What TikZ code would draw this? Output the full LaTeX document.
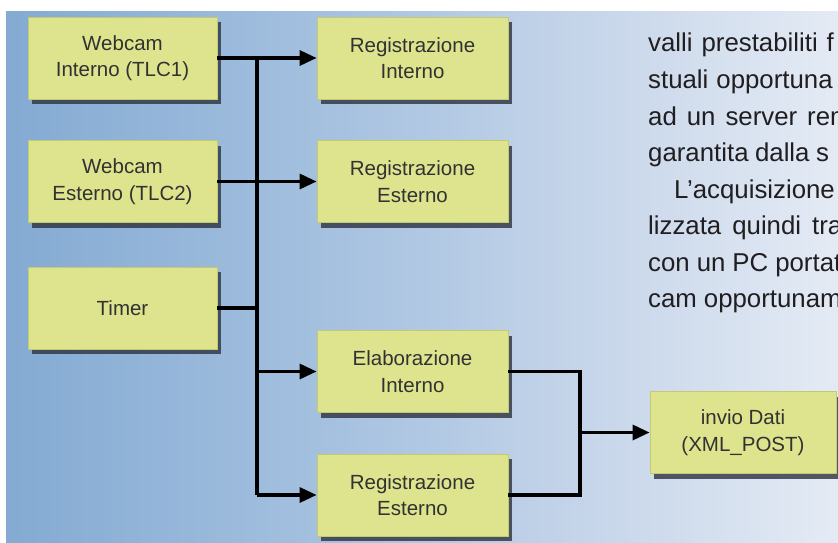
\documentclass[tikz,border=0pt]{standalone}
\usepackage{fontspec}
\setmainfont{Liberation Sans}
\usetikzlibrary{arrows.meta,shadows}

\definecolor{boxfill}{RGB}{222,228,142}
\definecolor{boxline}{RGB}{196,202,112}
\definecolor{boxtext}{RGB}{50,50,50}
\definecolor{paratext}{RGB}{32,30,32}
\definecolor{shadowcol}{RGB}{45,50,64}
\definecolor{p0}{RGB}{106,150,197}
\definecolor{p1}{RGB}{116,158,202}
\definecolor{p2}{RGB}{140,176,214}
\definecolor{p3}{RGB}{170,196,225}
\definecolor{p4}{RGB}{202,216,235}
\definecolor{p5}{RGB}{230,236,245}
\definecolor{p6}{RGB}{245,247,251}
\definecolor{p7}{RGB}{252,252,254}

% blue panel fading to white towards the right
\pgfdeclarehorizontalshading{panelblue}{100bp}{%
  color(0bp)=(p0); color(13.7bp)=(p1); color(30bp)=(p2); color(47bp)=(p3);
  color(62bp)=(p4); color(76bp)=(p5); color(90.6bp)=(p6); color(100bp)=(p7)}

\begin{document}
\begin{tikzpicture}[x=1pt,y=-1pt,
  box/.style={draw=boxline, line width=0.8pt, fill=boxfill,
    minimum width=189pt, minimum height=82pt, inner sep=0pt,
    align=center, text=boxtext, font=\fontsize{20.5}{26.5}\selectfont,
    drop shadow={shadow xshift=4pt, shadow yshift=-5pt, fill=shadowcol, opacity=0.8}},
  conn/.style={line width=3.3pt, black},
  arr/.style={conn, -{Triangle[length=17pt,width=15pt]}},
  para/.style={anchor=base west, inner sep=0pt, text=paratext,
    font=\fontsize{25.8}{36}\selectfont}]

\useasboundingbox (0,0) rectangle (838,543);
\fill[white] (0,0) rectangle (838,543);
\shade[shading=panelblue] (6,12) rectangle (838,543);

% column of paragraph text on the right
\node[para] (t1) at (648,52)    {\spaceskip=9pt valli prestabiliti f};
\node[para] (t2) at (648,88.5)  {\spaceskip=8pt stuali opportuna};
\node[para] (t3) at (648,125)   {\spaceskip=10pt ad un server rem};
\node[para] (t4) at (648,161.5) {\spaceskip=6.5pt garantita dalla s};
\node[para] (t5) at (674,198)   {L’acquisizione};
\node[para] (t6) at (648,234.5) {\spaceskip=11pt lizzata quindi tra};
\node[para] (t7) at (648,271)   {\spaceskip=7pt con un PC portat};
\node[para] (t8) at (648,307.5) {\spaceskip=7pt cam opportunam};

% blocks
\node[box] (wi) at (122.5,58)  {Webcam\\Interno (TLC1)};
\node[box] (we) at (122.5,181.5) {Webcam\\Esterno (TLC2)};
\node[box] (tm) at (122.5,308) {Timer};
\node[box, minimum width=191pt] (ri) at (412.5,58)    {Registrazione\\Interno};
\node[box, minimum width=191pt] (re) at (412.5,181.5) {Registrazione\\Esterno};
\node[box, minimum width=191pt] (ei) at (412.5,371.5) {Elaborazione\\Interno};
\node[box, minimum width=191pt] (rb) at (412.5,495)   {Registrazione\\Esterno};
\node[box, minimum width=186pt] (dati) at (743,432.5) {invio Dati\\(XML\_POST)};

% bus and merge columns
\coordinate (busx) at (257,0);
\coordinate (mx) at (580,0);

\draw[conn] (wi.east -| busx) -- (rb.west -| busx);
\draw[arr] (wi.east) -- (ri.west);
\draw[arr] (we.east) -- (re.west);
\draw[conn] (tm.east) -- (tm.east -| busx);
\draw[arr] (ei.west -| busx) -- (ei.west);
\draw[arr] (rb.west -| busx) -- (rb.west);

\draw[conn] (ei.east) -- (ei.east -| mx) -- (rb.east -| mx) -- (rb.east);
\draw[arr] (dati.west -| mx) -- (dati.west);
\end{tikzpicture}
\end{document}
